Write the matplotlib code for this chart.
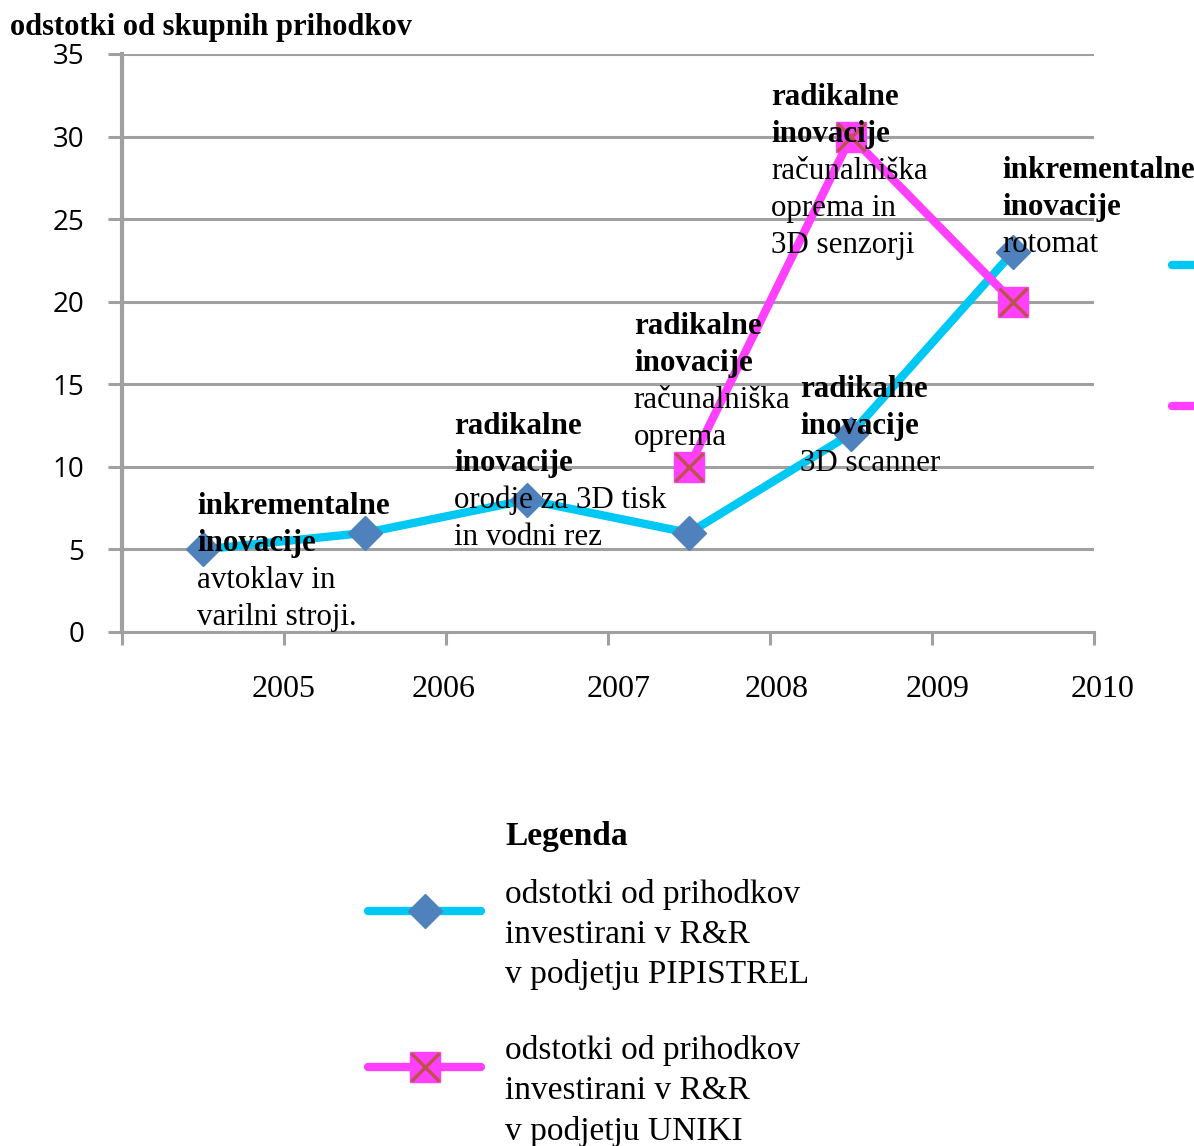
import matplotlib
matplotlib.use("Agg")
import matplotlib.pyplot as plt
from matplotlib.lines import Line2D
from matplotlib.legend_handler import HandlerLine2D
import matplotlib.transforms as mtransforms
import numpy as np

# ---- data ----
categories = ["A", "B", "C", "D", "E", "F"]
year_labels = ["", "2005", "2006", "2007", "2008", "2009", "2010"]
pipistrel = [5, 6, 8, 6, 12, 23]
uniki_idx = [3, 4, 5]
uniki = [10, 30, 20]
y_ticks = [0, 5, 10, 15, 20, 25, 30, 35]

label_pip = "odstotki od prihodkov\ninvestirani v R&R\nv podjetju PIPISTREL"
label_uni = "odstotki od prihodkov\ninvestirani v R&R\nv podjetju UNIKI"

# annotations: (x, y of first line, bold lines, normal lines)
annotations = [
    (-0.037, 7.57, ["inkrementalne", "inovacije"], ["avtoklav in", "varilni stroji."]),
    (1.549, 12.47, ["radikalne", "inovacije"], ["orodje za 3D tisk", "in vodni rez"]),
    (2.66, 18.47, ["radikalne", "inovacije"], ["računalniška", "oprema"]),
    (3.685, 14.71, ["radikalne", "inovacije"], ["3D scanner"]),
    (3.506, 32.34, ["radikalne", "inovacije"], ["računalniška", "oprema in", "3D senzorji"]),
    (4.932, 27.92, ["inkrementalne", "inovacije"], ["rotomat"]),
]

# small horizontal nudges (points) of the year labels, as in the original
year_nudges = [0, 0, -2, 8, 5, 4, 6]

CYAN = "#00C8F5"
MAG = "#FF40FF"
DIAM = "#4F81BD"
XRED = "#C0504D"
GRID = "#A0A0A0"
SERIF = "Liberation Serif"

fig = plt.figure(figsize=(11.94, 11.46), dpi=100)
ax = fig.add_axes([122/1194, 1 - 632/1146, (1094-122)/1194, (632-54)/1146])

x = np.arange(len(categories))
ax.plot(x, pipistrel, color=CYAN, lw=6, solid_capstyle="round", zorder=3)
ax.plot(x, pipistrel, ls="none", marker="D", ms=17, color=DIAM, mec=DIAM, zorder=4)
ux = [x[i] for i in uniki_idx]
ax.plot(ux, uniki, color=MAG, lw=6, solid_capstyle="round", zorder=3)
ax.plot(ux, uniki, ls="none", marker="s", ms=22, color=MAG, mec=MAG, zorder=4)
ax.plot(ux, uniki, ls="none", marker="x", ms=20, mew=2.5, color=XRED, zorder=5)

ax.set_xlim(-0.5, len(categories) - 0.5)
ax.set_ylim(0, 35)
ax.set_yticks(y_ticks)
ax.set_yticklabels([str(v) for v in y_ticks], fontfamily="Open Sans", fontsize=20)
ax.set_xticks(np.arange(-0.5, len(categories), 1.0))
ax.set_xticklabels(year_labels, fontfamily=SERIF, fontsize=23)
ax.grid(axis="y", color=GRID, lw=2.2)
ax.set_axisbelow(True)
for s in ["top", "right"]:
    ax.spines[s].set_visible(False)
ax.spines["left"].set_color(GRID)
ax.spines["left"].set_linewidth(3)
ax.spines["bottom"].set_color(GRID)
ax.spines["bottom"].set_linewidth(2.2)
ax.tick_params(axis="y", length=10, width=2.2, color=GRID, pad=17)
ax.tick_params(axis="x", length=9, width=2.2, color=GRID, pad=22)
for lab, dx in zip(ax.get_xticklabels(), year_nudges):
    lab.set_transform(lab.get_transform() +
                      mtransforms.ScaledTranslation(dx / 72, 0, fig.dpi_scale_trans))

# annotations
step = 37 * 0.72
for (xa, ya, bold, normal) in annotations:
    lines = [(t, "bold") for t in bold] + [(t, "normal") for t in normal]
    for i, (t, w) in enumerate(lines):
        ax.annotate(t, xy=(xa, ya), xytext=(0, -i * step), textcoords="offset points",
                    ha="left", va="center", fontfamily=SERIF, fontweight=w,
                    fontsize=22.3, zorder=10, annotation_clip=False)

# title
fig.text(10/1194, 1 - 27/1146, "odstotki od skupnih prihodkov", ha="left", va="center",
         fontfamily=SERIF, fontweight="bold", fontsize=22)


class UpHandler(HandlerLine2D):
    shift = 17.5  # points upward

    def create_artists(self, legend, orig_handle, xdescent, ydescent, width, height,
                       fontsize, trans):
        arts = super().create_artists(legend, orig_handle, xdescent, ydescent, width,
                                      height, fontsize, trans)
        for a in arts:
            a.set_ydata(np.asarray(a.get_ydata(), dtype=float) + self.shift)
        return arts


# legend
h1 = Line2D([], [], color=CYAN, lw=6, marker="D", ms=17, mfc=DIAM, mec=DIAM, solid_capstyle="round")
h2 = (Line2D([], [], color=MAG, lw=6, marker="s", ms=22, mfc=MAG, mec=MAG, solid_capstyle="round"),
      Line2D([], [], ls="none", marker="x", ms=20, mew=2.5, color=XRED))
leg = fig.legend([h1, h2], [label_pip, label_uni], loc="upper left",
                 bbox_to_anchor=(368/1194, 1 - 879/1146), frameon=False,
                 prop={"family": SERIF, "size": 24}, handlelength=3.4, handletextpad=0.72,
                 labelspacing=1.35, borderpad=0, borderaxespad=0,
                 handler_map={Line2D: UpHandler()})
for t in leg.get_texts():
    t.set_linespacing(1.4)
fig.text(505/1194, 1 - 836/1146, "Legenda", ha="left", va="center",
         fontfamily=SERIF, fontweight="bold", fontsize=24)

# cropped remnants on the right edge
for yy, c in [(265, CYAN), (406, MAG)]:
    fig.add_artist(Line2D([1172/1194, 1.01], [1 - yy/1146] * 2, color=c, lw=6,
                          solid_capstyle="round", transform=fig.transFigure))

fig.savefig("out.png", dpi=100, facecolor="white")
